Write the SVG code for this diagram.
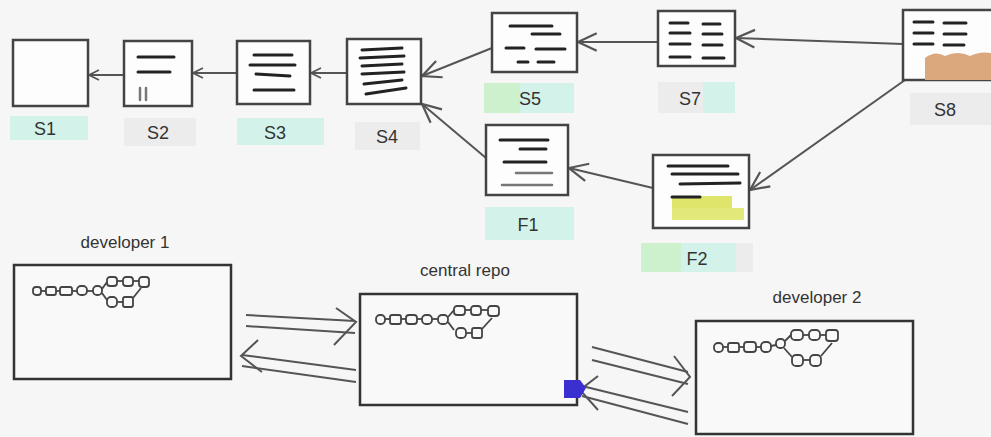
<svg xmlns="http://www.w3.org/2000/svg" width="991" height="437" viewBox="0 0 991 437">
<defs>
<style>
.box{fill:#fdfdfd;stroke:#444;stroke-width:2.5}
.bar{stroke:#222;stroke-width:3;stroke-linecap:round}
.lbar{stroke:#777;stroke-width:2.5;stroke-linecap:round}
.lbl{font-family:"Liberation Sans",Arial,sans-serif;font-size:18px;fill:#333;text-anchor:middle}
.ttl{font-family:"Liberation Sans",Arial,sans-serif;font-size:17px;fill:#333;text-anchor:middle}
.teal{fill:#d3f3ea}
.green{fill:#cdf1cd}
.gray{fill:#ececec}
.con{stroke:#555;stroke-width:2;fill:none}
.big{fill:#f9f9f9;stroke:#333;stroke-width:2.5}
.cm{fill:none;stroke:#444;stroke-width:1.8}
</style>
<marker id="oa" viewBox="0 0 12 12" refX="11" refY="6" markerWidth="12" markerHeight="12" markerUnits="userSpaceOnUse" orient="auto">
<path d="M1,1 L11,6 L1,11" fill="none" stroke="#555" stroke-width="1.8"/>
</marker>
<marker id="ob" viewBox="0 0 20 20" refX="19" refY="10" markerWidth="22" markerHeight="22" markerUnits="userSpaceOnUse" orient="auto">
<path d="M2,2 L19,10 L2,18" fill="none" stroke="#555" stroke-width="2"/>
</marker>
</defs>
<rect width="991" height="437" fill="#f6f6f6"/>

<g id="connectors">
<line class="con" x1="124" y1="75" x2="89" y2="75" marker-end="url(#oa)"/>
<line class="con" x1="237" y1="73" x2="193" y2="73" marker-end="url(#oa)"/>
<line class="con" x1="347" y1="73" x2="311" y2="73" marker-end="url(#oa)"/>
<line class="con" x1="492" y1="48" x2="422" y2="76" marker-end="url(#ob)"/>
<line class="con" x1="486" y1="158" x2="422" y2="104" marker-end="url(#ob)"/>
<line class="con" x1="658" y1="42" x2="578" y2="42" marker-end="url(#ob)"/>
<line class="con" x1="903" y1="44" x2="736" y2="38" marker-end="url(#ob)"/>
<line class="con" x1="905" y1="80" x2="750" y2="190" marker-end="url(#ob)"/>
<line class="con" x1="653" y1="188" x2="569" y2="168" marker-end="url(#ob)"/>

<line class="con" x1="246" y1="315" x2="355" y2="321"/>
<line class="con" x1="246" y1="326" x2="355" y2="333"/>
<path class="con" d="M336,308 L356,322 L334,345"/>
<line class="con" x1="356" y1="370" x2="242" y2="355"/>
<line class="con" x1="356" y1="382" x2="242" y2="366"/>
<path class="con" d="M258,340 L241,356 L262,372"/>
<line class="con" x1="592" y1="347" x2="688" y2="372"/>
<line class="con" x1="592" y1="360" x2="688" y2="384"/>
<path class="con" d="M674,356 L690,377 L672,396"/>
<line class="con" x1="688" y1="412" x2="582" y2="386"/>
<line class="con" x1="688" y1="424" x2="582" y2="396"/>
<path class="con" d="M598,376 L580,390 L598,410"/>
</g>

<g id="S1">
<rect class="box" x="13" y="40" width="75" height="66"/>
<rect class="teal" x="10" y="116" width="78" height="24"/>
<text class="lbl" x="45" y="135">S1</text>
</g>

<g id="S2">
<rect class="box" x="124" y="41" width="68" height="65"/>
<line class="bar" x1="138" y1="57" x2="174" y2="57"/>
<line class="bar" x1="138" y1="72" x2="170" y2="72"/>
<line class="lbar" x1="140" y1="88" x2="140" y2="100"/>
<line class="lbar" x1="146" y1="88" x2="146" y2="100"/>
<rect class="gray" x="124" y="118" width="72" height="28"/>
<text class="lbl" x="158" y="139">S2</text>
</g>

<g id="S3">
<rect class="box" x="237" y="41" width="73" height="63"/>
<line class="bar" x1="254" y1="55" x2="292" y2="55"/>
<line class="bar" x1="250" y1="65" x2="295" y2="65"/>
<line class="bar" x1="256" y1="74" x2="290" y2="76"/>
<line class="bar" x1="254" y1="90" x2="294" y2="90"/>
<rect class="teal" x="237" y="118" width="87" height="27"/>
<text class="lbl" x="275" y="139">S3</text>
</g>

<g id="S4">
<rect class="box" x="347" y="39" width="74" height="65"/>
<line class="bar" x1="362" y1="50" x2="402" y2="48"/>
<line class="bar" x1="360" y1="58" x2="404" y2="56"/>
<line class="bar" x1="362" y1="66" x2="402" y2="64"/>
<line class="bar" x1="362" y1="74" x2="404" y2="72"/>
<line class="bar" x1="364" y1="84" x2="402" y2="80"/>
<line class="bar" x1="366" y1="94" x2="406" y2="88"/>
<rect class="gray" x="355" y="122" width="65" height="28"/>
<text class="lbl" x="387" y="143">S4</text>
</g>

<g id="S5">
<rect class="box" x="492" y="13" width="85" height="59"/>
<line class="bar" x1="510" y1="26" x2="552" y2="26"/>
<line class="bar" x1="532" y1="34" x2="560" y2="34"/>
<line class="bar" x1="506" y1="48" x2="524" y2="48"/>
<line class="bar" x1="536" y1="49" x2="565" y2="49"/>
<line class="bar" x1="518" y1="62" x2="528" y2="62"/>
<line class="bar" x1="538" y1="62" x2="554" y2="62"/>
<rect class="green" x="484" y="83" width="40" height="30"/>
<rect class="teal" x="520" y="83" width="54" height="30"/>
<text class="lbl" x="530" y="105">S5</text>
</g>

<g id="S7">
<rect class="box" x="658" y="11" width="77" height="55"/>
<line class="bar" x1="670" y1="23" x2="688" y2="23"/>
<line class="bar" x1="670" y1="33" x2="690" y2="33"/>
<line class="bar" x1="670" y1="44" x2="690" y2="44"/>
<line class="bar" x1="670" y1="57" x2="690" y2="57"/>
<line class="bar" x1="703" y1="24" x2="720" y2="24"/>
<line class="bar" x1="703" y1="34" x2="722" y2="34"/>
<line class="bar" x1="703" y1="45" x2="722" y2="45"/>
<line class="bar" x1="703" y1="58" x2="724" y2="58"/>
<rect class="gray" x="658" y="82" width="45" height="31"/>
<rect class="teal" x="703" y="82" width="32" height="31"/>
<text class="lbl" x="690" y="105">S7</text>
</g>

<g id="S8">
<rect class="box" x="903" y="10" width="92" height="70"/>
<path d="M925,58 Q935,50 945,56 Q958,50 970,56 Q982,50 995,54 L995,80 L925,80 Z" fill="#dba77c"/>
<line class="bar" x1="914" y1="22" x2="933" y2="22"/>
<line class="bar" x1="914" y1="33" x2="933" y2="33"/>
<line class="bar" x1="914" y1="44" x2="933" y2="44"/>
<line class="bar" x1="944" y1="23" x2="966" y2="23"/>
<line class="bar" x1="944" y1="34" x2="966" y2="34"/>
<line class="bar" x1="944" y1="45" x2="964" y2="45"/>
<rect class="gray" x="910" y="93" width="81" height="32"/>
<text class="lbl" x="945" y="116">S8</text>
</g>

<g id="F1">
<rect class="box" x="486" y="125" width="82" height="70"/>
<line class="bar" x1="500" y1="140" x2="548" y2="140"/>
<line class="bar" x1="520" y1="149" x2="546" y2="149"/>
<line class="bar" x1="504" y1="162" x2="546" y2="162"/>
<line class="lbar" x1="516" y1="173" x2="552" y2="173"/>
<line class="lbar" x1="502" y1="185" x2="552" y2="185"/>
<rect class="teal" x="485" y="207" width="89" height="33"/>
<text class="lbl" x="528" y="231">F1</text>
</g>

<g id="F2">
<rect class="box" x="653" y="155" width="96" height="73"/>
<rect x="672" y="196" width="60" height="14" fill="#dfe56a"/>
<rect x="672" y="208" width="72" height="12" fill="#e2e87a"/>
<line class="bar" x1="668" y1="166" x2="728" y2="166"/>
<line class="bar" x1="672" y1="174" x2="738" y2="174"/>
<line class="bar" x1="680" y1="184" x2="740" y2="183"/>
<line class="bar" x1="672" y1="197" x2="700" y2="197"/>
<rect class="green" x="641" y="243" width="40" height="29"/>
<rect class="teal" x="681" y="243" width="55" height="29"/>
<rect class="gray" x="736" y="243" width="17" height="29"/>
<text class="lbl" x="697" y="265">F2</text>
</g>

<g id="developer1">
<text class="ttl" x="125" y="248">developer 1</text>
<rect class="big" x="14" y="265" width="217" height="114"/>
<g class="cm" transform="translate(33,276)">
<rect x="0" y="11" width="8" height="8" rx="3"/><line x1="8" y1="15" x2="13" y2="15"/>
<rect x="13" y="11" width="10" height="8" rx="2"/><line x1="23" y1="15" x2="27" y2="15"/>
<rect x="27" y="11" width="12" height="8" rx="2"/><line x1="39" y1="15" x2="44" y2="15"/>
<rect x="44" y="10" width="10" height="9" rx="4"/><line x1="54" y1="15" x2="60" y2="15"/>
<rect x="60" y="10" width="9" height="9" rx="4"/><path d="M69,13 L74,6"/><path d="M69,17 L74,24"/>
<rect x="74" y="1" width="10" height="9" rx="3"/><line x1="84" y1="5" x2="90" y2="5"/>
<rect x="90" y="1" width="10" height="9" rx="3"/><line x1="100" y1="5" x2="106" y2="5"/>
<rect x="106" y="1" width="10" height="10" rx="3"/>
<rect x="74" y="21" width="10" height="10" rx="4"/><line x1="84" y1="26" x2="90" y2="26"/>
<rect x="90" y="21" width="10" height="10" rx="2"/><path d="M100,22 L108,12"/>
</g>
</g>

<g id="central-repo">
<text class="ttl" x="465" y="276">central repo</text>
<rect class="big" x="360" y="294" width="217" height="111"/>
<g class="cm" transform="translate(376,306)">
<rect x="0" y="9" width="9" height="9" rx="4"/><line x1="9" y1="13" x2="14" y2="13"/>
<rect x="14" y="9" width="11" height="9" rx="2"/><line x1="25" y1="13" x2="30" y2="13"/>
<rect x="30" y="9" width="11" height="9" rx="3"/><line x1="41" y1="13" x2="46" y2="13"/>
<rect x="46" y="9" width="10" height="9" rx="4"/><line x1="56" y1="13" x2="62" y2="13"/>
<rect x="62" y="9" width="10" height="9" rx="4"/><path d="M72,11 L78,4"/><path d="M72,16 L78,24"/>
<rect x="78" y="0" width="11" height="9" rx="3"/><line x1="89" y1="4" x2="95" y2="4"/>
<rect x="95" y="0" width="10" height="9" rx="3"/><line x1="105" y1="4" x2="112" y2="4"/>
<rect x="112" y="0" width="11" height="10" rx="3"/>
<rect x="80" y="22" width="10" height="10" rx="4"/><line x1="90" y1="27" x2="96" y2="27"/>
<rect x="96" y="22" width="10" height="10" rx="2"/><path d="M106,23 L116,12"/>
</g>
<path d="M564,380 L580,380 L586,388 L580,398 L564,398 Z" fill="#3b2fd0"/>
</g>

<g id="developer2">
<text class="ttl" x="817" y="303">developer 2</text>
<rect class="big" x="696" y="321" width="217" height="113"/>
<g class="cm" transform="translate(714,333)">
<rect x="0" y="10" width="9" height="9" rx="4"/><line x1="9" y1="14" x2="14" y2="14"/>
<rect x="14" y="10" width="11" height="9" rx="2"/><line x1="25" y1="14" x2="30" y2="14"/>
<rect x="30" y="9" width="12" height="10" rx="3"/><line x1="42" y1="14" x2="47" y2="14"/>
<rect x="47" y="9" width="10" height="10" rx="4"/><line x1="57" y1="13" x2="62" y2="12"/>
<rect x="62" y="6" width="9" height="9" rx="4"/><path d="M71,8 L77,2"/><path d="M70,15 L78,24"/>
<rect x="77" y="-3" width="12" height="10" rx="4"/><line x1="89" y1="2" x2="95" y2="2"/>
<rect x="95" y="-3" width="11" height="10" rx="4"/><line x1="106" y1="2" x2="112" y2="2"/>
<rect x="112" y="-3" width="12" height="11" rx="3"/>
<rect x="78" y="22" width="11" height="11" rx="4"/><line x1="89" y1="27" x2="96" y2="27"/>
<rect x="96" y="22" width="11" height="11" rx="4"/><path d="M107,23 L118,10"/>
</g>
</g>
</svg>
